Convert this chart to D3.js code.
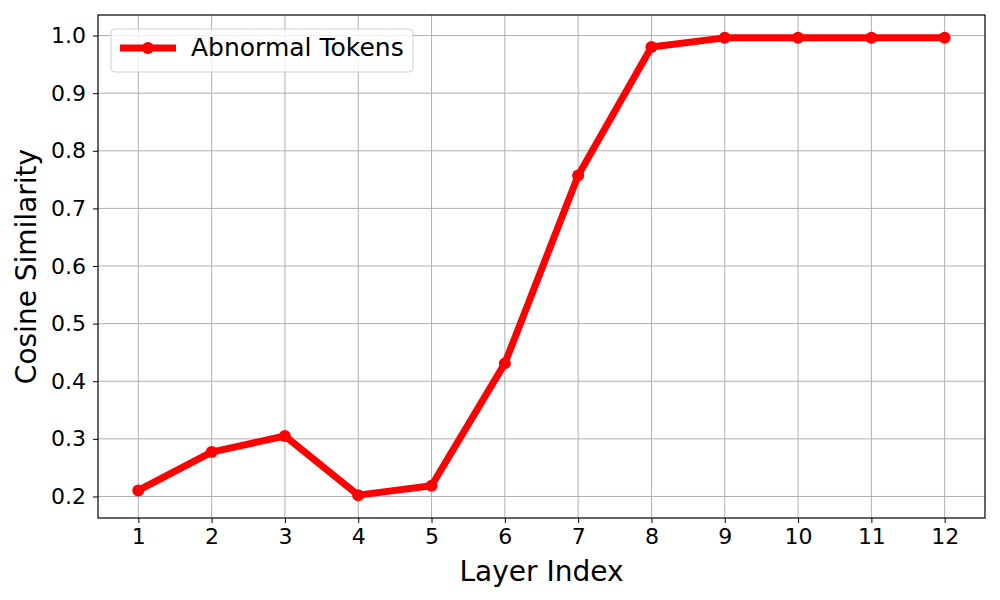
<!DOCTYPE html>
<html>
<head>
<meta charset="utf-8">
<script src="https://cdn.jsdelivr.net/npm/d3@7"></script>
<style>
  body { margin: 0; background: #fff; }
  svg { font-family: "DejaVu Sans", sans-serif; }
</style>
</head>
<body>
<div id="chart"></div>
<script>
// data
let layers = [1, 2, 3, 4, 5, 6, 7, 8, 9, 10, 11, 12];
let similarity = [0.2105, 0.277, 0.305, 0.2023, 0.2185, 0.431, 0.757, 0.980, 0.996, 0.996, 0.996, 0.996];
let yTicks = [0.2, 0.3, 0.4, 0.5, 0.6, 0.7, 0.8, 0.9, 1.0];
let seriesName = "Abnormal Tokens";

let width = 1000, height = 600;
let margin = {top: 15, right: 15, bottom: 82, left: 98};
let plotW = width - margin.left - margin.right;
let plotH = height - margin.top - margin.bottom;

let svg = d3.select("#chart")
    .append("svg")
    .attr("width", width)
    .attr("height", height)
    .append("g")
    .attr("transform", `translate(${margin.left}, ${margin.top})`);

// matplotlib-style 5% margins
let x = d3.scaleLinear().domain([0.45, 12.55]).range([0, plotW]);
let yMin = d3.min(similarity), yMax = d3.max(similarity);
let pad = (yMax - yMin) * 0.05;
let y = d3.scaleLinear().domain([yMin - pad, yMax + pad]).range([plotH, 0]);

// grid
svg.append("g").selectAll("line").data(layers).enter()
    .append("line")
    .attr("x1", d => x(d)).attr("x2", d => x(d))
    .attr("y1", 0).attr("y2", plotH)
    .attr("stroke", "#b0b0b0").attr("stroke-width", 1);
svg.append("g").selectAll("line").data(yTicks).enter()
    .append("line")
    .attr("x1", 0).attr("x2", plotW)
    .attr("y1", d => y(d)).attr("y2", d => y(d))
    .attr("stroke", "#b0b0b0").attr("stroke-width", 1);

// axes
let xAxis = svg.append("g")
    .attr("transform", `translate(0,${plotH})`)
    .call(d3.axisBottom(x).tickValues(layers).tickFormat(d3.format("d")).tickSize(5).tickPadding(5).tickSizeOuter(0));
let yAxis = svg.append("g")
    .call(d3.axisLeft(y).tickValues(yTicks).tickFormat(d3.format(".1f")).tickSize(5).tickPadding(7).tickSizeOuter(0));
[xAxis, yAxis].forEach(a => {
    a.attr("font-size", null).attr("font-family", null);
    a.selectAll("text").style("font-size", "22px").attr("fill", "#000");
    a.selectAll("line").attr("stroke", "#000");
    a.select(".domain").remove();
});

// frame
svg.append("rect")
    .attr("width", plotW).attr("height", plotH)
    .attr("fill", "none").attr("stroke", "#000").attr("stroke-width", 1.2);

// line + markers
let line = d3.line().x((d, i) => x(layers[i])).y(d => y(d));
svg.append("path")
    .datum(similarity)
    .attr("d", line)
    .attr("fill", "none")
    .attr("stroke", "#ff0000")
    .attr("stroke-width", 7)
    .attr("stroke-linejoin", "round");
svg.selectAll("circle.pt").data(similarity).enter()
    .append("circle")
    .attr("class", "pt")
    .attr("cx", (d, i) => x(layers[i]))
    .attr("cy", d => y(d))
    .attr("r", 6)
    .attr("fill", "#ff0000");

// axis labels
svg.append("text")
    .attr("transform", `translate(${plotW / 2}, ${plotH + 63})`)
    .style("text-anchor", "middle")
    .style("font-size", "28px")
    .text("Layer Index");
svg.append("text")
    .attr("transform", `translate(${-62}, ${plotH / 2}) rotate(-90)`)
    .style("text-anchor", "middle")
    .style("font-size", "28px")
    .text("Cosine Similarity");

// legend
let legend = svg.append("g").attr("transform", "translate(13, 14)");
legend.append("rect")
    .attr("width", 302).attr("height", 43)
    .attr("rx", 4)
    .attr("fill", "#fff").attr("fill-opacity", 0.8)
    .attr("stroke", "#d0d0d0");
legend.append("line")
    .attr("x1", 9).attr("x2", 65).attr("y1", 19).attr("y2", 19)
    .attr("stroke", "#ff0000").attr("stroke-width", 7);
legend.append("circle")
    .attr("cx", 37).attr("cy", 19).attr("r", 6).attr("fill", "#ff0000");
legend.append("text")
    .attr("x", 80).attr("y", 27)
    .style("font-size", "25px")
    .text(seriesName);
</script>
</body>
</html>
